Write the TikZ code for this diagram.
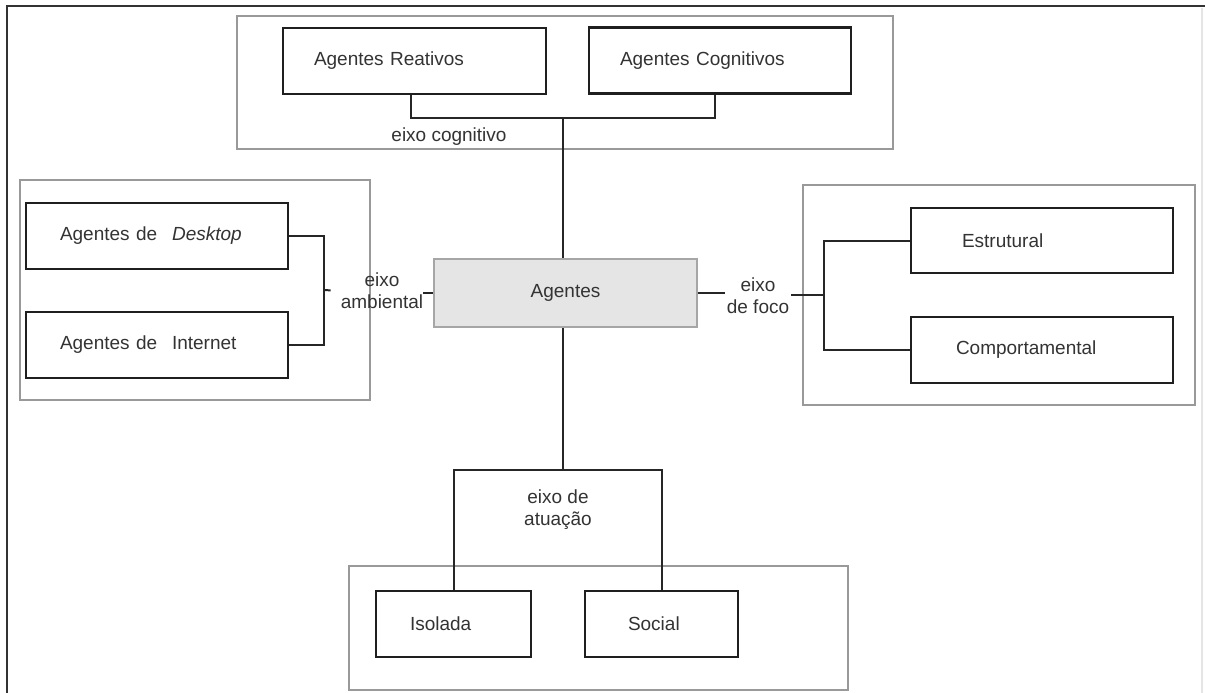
\documentclass[tikz,border=0pt]{standalone}
\usepackage{fontspec}
\setmainfont{Liberation Sans}
\begin{document}
\begin{tikzpicture}[x=1pt,y=-1pt,
  txt/.style={font=\fontsize{19}{22}\selectfont, text=black!80},
  catbox/.style={txt, draw=black!88, line width=2.4pt, minimum height=66pt,
    inner ysep=0pt, align=left},
  group/.style={draw=black!40, line width=1.3pt},
  link/.style={draw=black!85, line width=2pt},
  axislabel/.style={txt, align=center, inner sep=0pt}
]
\useasboundingbox (0,0) rectangle (1205,693);

% page frame
\draw[black!80, line width=2pt] (7,693) -- (7,6) -- (1205,6);
\draw[black!10, line width=1.5pt] (1202,8) -- (1202,693);

% group frames
\draw[group] (237,16) rectangle (893,149);
\draw[group] (20,180) rectangle (370,400);
\draw[group] (803,185) rectangle (1195,405);
\draw[group] (349,566) rectangle (848,690);

% central node
\node[txt, draw=black!35, fill=black!10, line width=1.3pt,
  minimum width=263pt, minimum height=68pt] (ag) at (565.5,293) {Agentes};

% cognitive axis
\node[catbox, text width=201pt, inner xsep=31pt] (reat) at (414.5,61) {Agentes Reativos};
\node[catbox, text width=200pt, inner xsep=31pt] (cog) at (720,60.5) {Agentes Cognitivos};
\node[txt, inner sep=0pt] (ecog) at (449,137) {eixo cognitivo};

% environmental axis
\node[catbox, text width=194pt, inner xsep=34pt] (desk) at (157,236) {Agentes de\hspace{0.45em} \textit{Desktop}};
\node[catbox, text width=194pt, inner xsep=34pt] (int) at (157,345) {Agentes de\hspace{0.45em} Internet};
\node[axislabel] (amb) at (382,291) {eixo\\ambiental};

% focus axis
\node[catbox, text width=160pt, inner xsep=51pt, minimum height=65pt] (estr) at (1042,240.5) {Estrutural};
\node[catbox, text width=172pt, inner xsep=45pt] (comp) at (1042,350) {Comportamental};
\node[axislabel, inner xsep=2pt] (foco) at (758,296) {eixo\\de foco};

% action axis
\node[catbox, text width=87pt, inner xsep=34pt] (iso) at (453.5,624) {Isolada};
\node[catbox, text width=67pt, inner xsep=43pt] (soc) at (661.5,624) {Social};
\node[axislabel] (atu) at (558,510) {eixo de\\atuação};

% junction points
\coordinate (cj) at (563,118);
\coordinate (jl) at (324,290);
\coordinate (jr) at (824,295);
\coordinate (cb) at (563,470);

% connectors
\draw[link] ([xshift=-4pt]reat.south) |- (cj) -| ([xshift=-5pt]cog.south);
\draw[link] (cj) -- (cj |- ag.north);

\draw[link] (desk.east) -| (jl) |- (int.east);
\draw[link, shorten >=10pt] (jl) -- (amb.west);
\draw[link] (amb.east |- ag.west) -- (ag.west);

\draw[link] (ag.east) -- (foco.west |- ag.east);
\draw[link] (foco.east |- jr) -- (jr);
\draw[link] (estr.west) -| (jr) |- (comp.west);

\draw[link] (cb |- ag.south) -- (cb);
\draw[link] (iso.north) |- (cb) -| (soc.north);
\end{tikzpicture}
\end{document}
